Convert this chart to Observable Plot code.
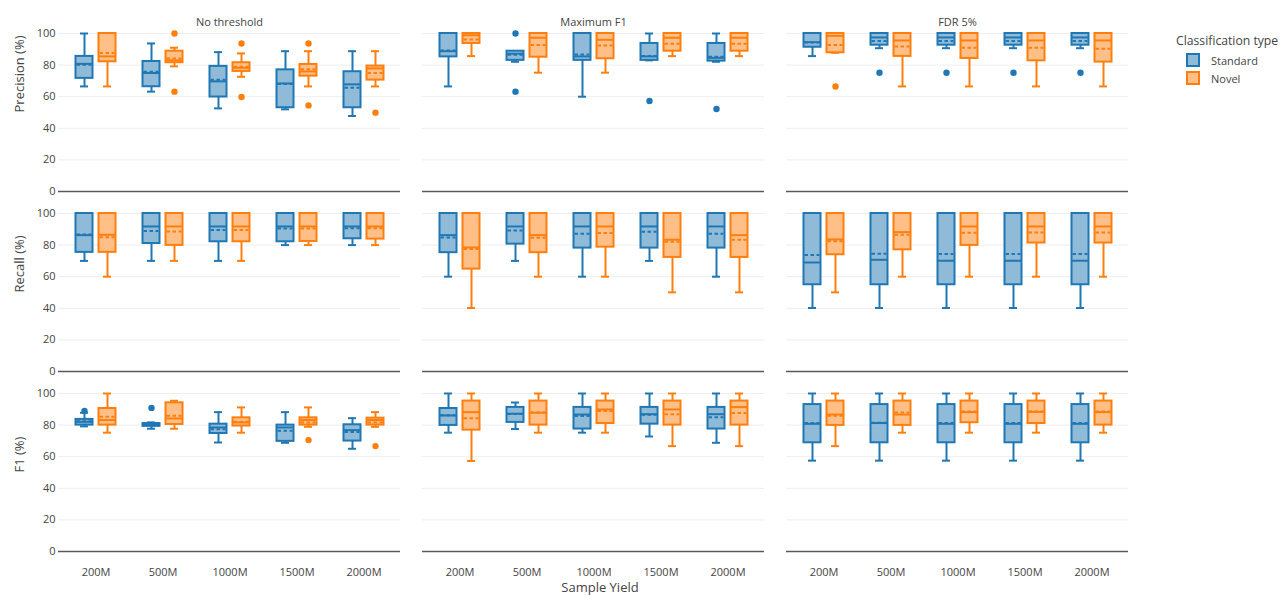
<!DOCTYPE html>
<html>
<head>
<meta charset="utf-8">
<script src="https://cdn.jsdelivr.net/npm/d3@7"></script>
<script src="https://cdn.jsdelivr.net/npm/@observablehq/plot@0.6"></script>
<style>
  body { margin: 0; background: white; font-family: "Open Sans", sans-serif; }
  #wrap { position: relative; width: 1283px; height: 596px; overflow: hidden; }
  #chart { position: absolute; left: 0; top: 0; }
  #xtitle { position: absolute; left: 500px; width: 200px; top: 578px; text-align: center; font-size: 13px; color: #444; line-height: 18px; }
  #legend { position: absolute; left: 1176px; top: 31px; color: #444; }
  #legend .title { font-size: 12.2px; line-height: 20px; white-space: nowrap; }
  #legend .item { display: flex; align-items: center; height: 18px; margin-left: 10px; font-size: 11px; }
  #legend svg { margin-right: 11px; }
</style>
</head>
<body>
<div id="wrap">
  <div id="chart"></div>
  <div id="xtitle">Sample Yield</div>
  <div id="legend"></div>
</div>
<script>
// ---------- categories ----------
const metrics = ["Precision", "Recall", "F1"];
const metricLabels = ["Precision (%)", "Recall (%)", "F1 (%)"];
const thresholds = ["No threshold", "Maximum F1", "FDR 5%"];
const yields = ["200M", "500M", "1000M", "1500M", "2000M"];
const types = ["Standard", "Novel"];
const yTicks = [0, 20, 40, 60, 80, 100];
const typeStroke = ["#1f77b4", "#ff7f0e"];
const typeFill = ["#8fbbd9", "#ffbf86"];

// ---------- box statistics: [lower whisker, q1, median, q3, upper whisker, mean]
// rows ordered: threshold (No threshold, Maximum F1, FDR 5%) x yield (200M..2000M)
const precisionStandard = [
  [66.5, 71.6, 80.8, 85.5, 100, 80.3],
  [63.2, 66.3, 75.0, 82.3, 93.7, 75.8],
  [52.6, 59.8, 69.7, 79.2, 88.2, 70.7],
  [52.0, 53.0, 68.4, 77.0, 88.8, 68.0],
  [47.8, 53.0, 67.8, 75.8, 88.8, 65.7],
  [66.5, 85.2, 88.8, 100, 100, 89.3],
  [82.1, 83.0, 87.2, 88.8, 88.8, 86.5],
  [60.0, 83.0, 85.5, 100, 100, 86.7],
  [83.0, 83.0, 85.5, 93.7, 100, 85.8],
  [82.1, 82.5, 84.6, 93.7, 100, 85.3],
  [85.7, 91.3, 94.5, 100, 100, 94.3],
  [90.7, 92.6, 97.5, 100, 100, 95.3],
  [90.7, 92.6, 97.5, 100, 100, 95.3],
  [90.7, 92.6, 97.5, 100, 100, 95.3],
  [90.7, 92.6, 97.5, 100, 100, 95.3]
];
const precisionNovel = [
  [66.5, 82.1, 85.5, 100, 100, 87.6],
  [79.2, 81.5, 83.0, 88.8, 91.0, 84.2],
  [72.6, 76.0, 78.3, 81.5, 87.4, 78.9],
  [66.5, 73.0, 76.0, 80.4, 88.8, 77.3],
  [66.5, 70.5, 77.9, 79.4, 88.8, 75.0],
  [85.7, 93.7, 98.9, 100, 100, 96.2],
  [75.2, 85.0, 97.3, 100, 100, 92.8],
  [75.2, 84.0, 96.0, 100, 100, 92.4],
  [85.7, 88.8, 97.3, 100, 100, 93.5],
  [85.7, 88.8, 97.3, 100, 100, 93.5],
  [87.8, 87.8, 98.5, 100, 100, 92.8],
  [66.5, 85.5, 95.6, 100, 100, 91.8],
  [66.5, 84.2, 95.6, 100, 100, 91.0],
  [66.5, 82.7, 95.6, 100, 100, 91.0],
  [66.5, 81.9, 95.6, 100, 100, 90.3]
];
const recallStandard = [
  [70.0, 75.4, 86.3, 100, 100, 86.7],
  [70.0, 81.0, 91.8, 100, 100, 89.0],
  [70.0, 82.1, 91.8, 100, 100, 89.5],
  [80.0, 82.1, 91.8, 100, 100, 90.5],
  [80.0, 84.0, 91.8, 100, 100, 90.7],
  [60.0, 75.2, 86.3, 100, 100, 84.8],
  [70.0, 80.6, 91.8, 100, 100, 89.3],
  [60.0, 78.1, 91.8, 100, 100, 87.2],
  [70.0, 78.1, 91.8, 100, 100, 88.4],
  [60.0, 78.1, 91.8, 100, 100, 87.2],
  [40.2, 54.9, 69.0, 100, 100, 73.7],
  [40.2, 54.9, 70.7, 100, 100, 74.5],
  [40.2, 54.9, 70.1, 100, 100, 74.3],
  [40.2, 54.9, 70.1, 100, 100, 74.3],
  [40.2, 54.9, 70.1, 100, 100, 74.3]
];
const recallNovel = [
  [60.0, 75.4, 86.5, 100, 100, 85.0],
  [70.0, 79.8, 91.8, 100, 100, 88.6],
  [70.0, 82.1, 91.8, 100, 100, 89.5],
  [80.0, 82.3, 91.8, 100, 100, 90.5],
  [80.0, 83.8, 91.8, 100, 100, 90.7],
  [40.2, 64.8, 78.5, 100, 100, 77.5],
  [60.0, 75.2, 86.3, 100, 100, 84.6],
  [60.0, 78.7, 91.8, 100, 100, 87.6],
  [50.1, 72.2, 83.4, 100, 100, 82.1],
  [50.1, 72.2, 86.3, 100, 100, 83.4],
  [50.1, 73.9, 83.6, 100, 100, 82.5],
  [60.0, 77.0, 88.2, 100, 100, 86.5],
  [60.0, 79.8, 91.8, 100, 100, 87.8],
  [60.0, 81.3, 91.8, 100, 100, 88.0],
  [60.0, 81.3, 91.8, 100, 100, 88.0]
];
const f1Standard = [
  [79.2, 80.0, 82.1, 83.6, 87.8, 82.4],
  [77.7, 79.2, 80.4, 81.0, 81.7, 80.6],
  [69.0, 74.7, 78.5, 80.6, 88.2, 77.3],
  [68.8, 69.7, 78.5, 80.0, 88.2, 76.4],
  [65.0, 69.9, 76.8, 80.2, 84.4, 75.6],
  [75.2, 79.8, 86.1, 90.5, 100, 86.3],
  [77.5, 81.7, 87.2, 91.2, 94.3, 87.0],
  [75.2, 77.5, 86.7, 91.2, 100, 85.7],
  [72.8, 80.6, 86.9, 91.2, 100, 86.6],
  [68.8, 77.5, 86.9, 91.2, 100, 85.0],
  [57.5, 68.8, 80.8, 93.0, 100, 81.3],
  [57.5, 68.8, 81.3, 93.0, 100, 81.5],
  [57.5, 68.8, 80.8, 93.0, 100, 81.3],
  [57.5, 68.8, 80.8, 93.0, 100, 81.3],
  [57.5, 68.8, 80.8, 93.0, 100, 81.3]
];
const f1Novel = [
  [75.2, 80.0, 83.2, 90.5, 100, 85.3],
  [77.7, 80.4, 84.2, 94.1, 95.4, 85.9],
  [75.2, 79.4, 81.7, 84.6, 91.2, 82.1],
  [78.9, 80.0, 83.2, 84.6, 91.2, 81.7],
  [78.9, 80.0, 83.2, 84.4, 88.2, 81.7],
  [57.3, 76.8, 88.2, 95.2, 100, 84.4],
  [75.2, 80.0, 87.8, 95.2, 100, 88.0],
  [75.2, 81.0, 89.9, 95.2, 100, 89.0],
  [66.7, 80.0, 89.9, 95.2, 100, 86.9],
  [66.7, 80.0, 91.4, 95.2, 100, 87.6],
  [66.7, 79.8, 86.7, 95.2, 100, 85.9],
  [75.2, 79.8, 86.7, 95.2, 100, 88.0],
  [75.2, 81.5, 88.2, 95.2, 100, 88.6],
  [75.2, 81.0, 88.4, 95.2, 100, 88.6],
  [75.2, 80.0, 88.2, 95.2, 100, 88.6]
];

// ---------- outliers: [metric, threshold, yield, type, value]
const outliers = [
  ["Precision", "No threshold", "500M", "Novel", 100],
  ["Precision", "No threshold", "500M", "Novel", 63.2],
  ["Precision", "No threshold", "1000M", "Novel", 93.7],
  ["Precision", "No threshold", "1000M", "Novel", 59.8],
  ["Precision", "No threshold", "1500M", "Novel", 93.7],
  ["Precision", "No threshold", "1500M", "Novel", 54.5],
  ["Precision", "No threshold", "2000M", "Novel", 49.9],
  ["Precision", "Maximum F1", "500M", "Standard", 100],
  ["Precision", "Maximum F1", "500M", "Standard", 63.2],
  ["Precision", "Maximum F1", "1500M", "Standard", 57.3],
  ["Precision", "Maximum F1", "2000M", "Standard", 52.2],
  ["Precision", "FDR 5%", "200M", "Novel", 66.5],
  ["Precision", "FDR 5%", "500M", "Standard", 75.2],
  ["Precision", "FDR 5%", "1000M", "Standard", 75.2],
  ["Precision", "FDR 5%", "1500M", "Standard", 75.2],
  ["Precision", "FDR 5%", "2000M", "Standard", 75.2],
  ["F1", "No threshold", "200M", "Standard", 89.0],
  ["F1", "No threshold", "500M", "Standard", 90.9],
  ["F1", "No threshold", "1500M", "Novel", 70.5],
  ["F1", "No threshold", "2000M", "Novel", 66.7]
];

// ---------- build tidy table ----------
const statTables = [
  ["Precision", "Standard", precisionStandard],
  ["Precision", "Novel", precisionNovel],
  ["Recall", "Standard", recallStandard],
  ["Recall", "Novel", recallNovel],
  ["F1", "Standard", f1Standard],
  ["F1", "Novel", f1Novel]
];
const boxes = [];
for (const [metric, type, rows] of statTables) {
  rows.forEach((r, i) => {
    boxes.push({
      metric, type,
      threshold: thresholds[Math.floor(i / yields.length)],
      yield: yields[i % yields.length],
      lo: r[0], q1: r[1], med: r[2], q3: r[3], hi: r[4], mean: r[5]
    });
  });
}
const outlierRows = outliers.map(([metric, threshold, yld, type, value]) => ({metric, threshold, yield: yld, type, value}));

// ---------- geometry helpers (pixel offsets within a yield band) ----------
const boxInset = {Standard: [13.5, 36.5], Novel: [36.5, 13.5]};
const capInset = {Standard: [18, 41], Novel: [41, 18]};
const centerDx = {Standard: -11.5, Novel: 11.5};

const marks = [
  Plot.gridY(yTicks.slice(1), {stroke: "#eeeeee", strokeOpacity: 1, strokeWidth: 1}),
  Plot.ruleY([0], {stroke: "#5a5a5a", strokeWidth: 1.6})
];

types.forEach((t, ti) => {
  const d = boxes.filter(b => b.type === t);
  const o = outlierRows.filter(b => b.type === t);
  const col = typeStroke[ti];
  const [bl, br] = boxInset[t];
  const [cl, cr] = capInset[t];
  const dx = centerDx[t];
  marks.push(
    Plot.ruleX(d, {x: "yield", y1: "q3", y2: "hi", fx: "threshold", fy: "metric", dx, stroke: col, strokeWidth: 2}),
    Plot.ruleX(d, {x: "yield", y1: "lo", y2: "q1", fx: "threshold", fy: "metric", dx, stroke: col, strokeWidth: 2}),
    Plot.tickY(d, {x: "yield", y: "hi", fx: "threshold", fy: "metric", insetLeft: cl, insetRight: cr, stroke: col, strokeWidth: 2}),
    Plot.tickY(d, {x: "yield", y: "lo", fx: "threshold", fy: "metric", insetLeft: cl, insetRight: cr, stroke: col, strokeWidth: 2}),
    Plot.barY(d, {x: "yield", y1: "q1", y2: "q3", fx: "threshold", fy: "metric", insetLeft: bl, insetRight: br, fill: typeFill[ti], stroke: col, strokeWidth: 2}),
    Plot.tickY(d, {x: "yield", y: "med", fx: "threshold", fy: "metric", insetLeft: bl, insetRight: br, stroke: col, strokeWidth: 2}),
    Plot.tickY(d, {x: "yield", y: "mean", fx: "threshold", fy: "metric", insetLeft: bl + 1, insetRight: br + 1, stroke: col, strokeWidth: 2, strokeDasharray: "3.5,2.5"}),
    Plot.dot(o, {x: "yield", y: "value", fx: "threshold", fy: "metric", dx, r: 3.2, fill: col, stroke: "none"})
  );
});

// row titles (y labels)
marks.push(
  Plot.text(metrics.map((m, i) => ({metric: m, label: metricLabels[i], threshold: thresholds[0]})), {
    fy: "metric", fx: "threshold", text: "label", frameAnchor: "left", dx: -39, rotate: -90,
    fontSize: 13, fill: "#444", fontFamily: "Open Sans"
  }),
  Plot.axisY({ticks: yTicks, tickSize: 0, tickPadding: 3, fontSize: 11, label: null, color: "#444"}),
  Plot.axisX({tickSize: 0, tickPadding: 17, fontSize: 11, label: null, color: "#444"}),
  Plot.axisFx({anchor: "top", tickSize: 0, tickPadding: 8, fontSize: 11, label: null, color: "#444"})
);

const chart = Plot.plot({
  width: 1150,
  height: 596,
  marginLeft: 57,
  marginRight: 20,
  marginTop: 32.3,
  marginBottom: 44.3,
  style: {fontFamily: "Open Sans", background: "transparent", color: "#444", overflow: "visible"},
  fx: {domain: thresholds, paddingInner: 0.06, paddingOuter: 0, axis: null},
  fy: {domain: metrics, paddingInner: 0.1224, paddingOuter: 0, axis: null},
  x: {domain: yields, padding: 0, insetLeft: 3, insetRight: 3},
  y: {domain: [0, 100]},
  marks
});
document.getElementById("chart").appendChild(chart);

// legend
const legend = document.getElementById("legend");
const title = document.createElement("div");
title.className = "title";
title.textContent = "Classification type";
legend.appendChild(title);
types.forEach((t, i) => {
  const item = document.createElement("div");
  item.className = "item";
  item.innerHTML = `<svg width="14" height="14"><rect x="1" y="1" width="12" height="12" fill="${typeFill[i]}" stroke="${typeStroke[i]}" stroke-width="2"></rect></svg><span>${t}</span>`;
  legend.appendChild(item);
});
</script>
</body>
</html>
